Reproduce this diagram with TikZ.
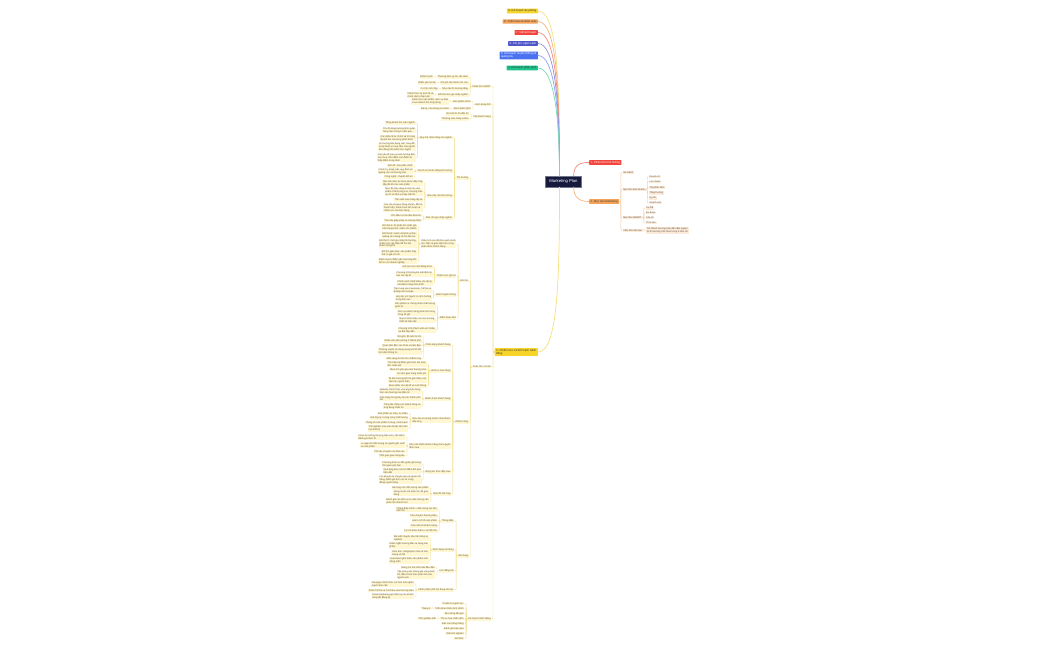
\documentclass[tikz,border=0pt]{standalone}
\usepackage{fontspec}
\setmainfont{Liberation Sans}
\usetikzlibrary{calc}
\definecolor{navy}{HTML}{161B3D}
\definecolor{cY}{HTML}{F6D42A}
\definecolor{cO}{HTML}{F3A257}
\definecolor{cR}{HTML}{F2453D}
\definecolor{cI}{HTML}{4F56C8}
\definecolor{cB}{HTML}{4A72F0}
\definecolor{cG}{HTML}{1FC38A}
\definecolor{lfY}{HTML}{FFF6D2}
\definecolor{lnY}{HTML}{F3DC82}
\definecolor{lfO}{HTML}{FDEBDA}
\definecolor{lnO}{HTML}{F8C79C}
\definecolor{txt}{HTML}{5A5040}
\definecolor{kY}{HTML}{F8E07A}
\definecolor{kO}{HTML}{F6B47E}
\definecolor{kR}{HTML}{F58883}
\definecolor{kI}{HTML}{8D92DD}
\definecolor{kB}{HTML}{8AA3F5}
\definecolor{kG}{HTML}{7CD9B5}
\tikzset{
 lf/.style={fill=lfY, text=txt, font=\fontsize{2.4}{2.8}\selectfont, inner xsep=0.7pt, inner ysep=0.4pt, align=left},
 lfo/.style={lf, fill=lfO},
 yc/.style={draw=lnY, line width=0.4pt, rounded corners=0.8pt},
 oc/.style={draw=lnO, line width=0.4pt, rounded corners=0.8pt},
 br/.style={font=\fontsize{2.8}{3.2}\selectfont, inner xsep=1.5pt, inner ysep=1pt, align=left, rounded corners=0.5pt},
 cv/.style={line width=0.7pt},
}
\newcommand\yk[4]{%
 \path (#2.west) ++(-3,0) coordinate (#1-a) (0,#3) coordinate (#1-b);
 \node[lf,anchor=east] (#1) at (#1-a |- #1-b) {#4};
 \draw[yc] (#2.west) -- ++(-1.5,0) |- (#1.east);}
\newcommand\ok[4]{%
 \path (#2.east) ++(3,0) coordinate (#1-a) (0,#3) coordinate (#1-b);
 \node[lfo,anchor=west] (#1) at (#1-a |- #1-b) {#4};
 \draw[oc] (#2.east) -- ++(1.5,0) |- (#1.west);}
\begin{document}
\begin{tikzpicture}[x=1pt,y=-1pt]
\fill[white] (0,0) rectangle (1050,650);
\useasboundingbox (0,0) rectangle (1050,650);
% central
\node[fill=navy, text=white, font=\fontsize{4.2}{5}\selectfont, minimum height=9pt, inner xsep=4pt, draw=navy!60!white, line width=0.3pt] (c) at (563.5,181.5) {Marketing Plan};
% top branches
\node[br, fill=cY, text=black!80, anchor=east] (t9) at (538,11) {9. Kế hoạch dự phòng};
\node[br, fill=cO, text=black!75, anchor=east] (t8) at (538,21.5) {8. Triển khai và kiểm soát};
\node[br, fill=cR, text=white, anchor=east] (t7) at (538,32.5) {7. Viết kế hoạch};
\node[br, fill=cI, text=white, anchor=east] (t6) at (538,43.5) {6. Chi phí, ngân sách};
\node[br, fill=cB, text=white, anchor=east] (t5) at (538,55.5) {5. Kế hoạch truyền thông và\\quảng bá};
\node[br, fill=cG, text=black!80, anchor=east] (t4) at (538,68) {4. Kế hoạch phân phối};
\node[br, fill=cY, text=black!80, anchor=east] (b3) at (538,352) {3. Chiến lược và kế hoạch hành\\động};
\node[br, fill=cR, text=white, anchor=west] (r1) at (589,162.5) {1. Phân tích tình huống};
\node[br, fill=cO, text=black!75, anchor=west] (r2) at (589,201.5) {2. Mục tiêu Marketing};
\draw[cv, kY] (t9.east) .. controls +(20,0) and +(0,-90) .. ([xshift=-4pt]c.north);
\draw[cv, kO] (t8.east) .. controls +(19,0) and +(0,-85) .. ([xshift=-4pt]c.north);
\draw[cv, kR] (t7.east) .. controls +(18,0) and +(0,-80) .. ([xshift=-4pt]c.north);
\draw[cv, kI] (t6.east) .. controls +(17,0) and +(0,-75) .. ([xshift=-4pt]c.north);
\draw[cv, kB] (t5.east) .. controls +(16,0) and +(0,-70) .. ([xshift=-4pt]c.north);
\draw[cv, kG] (t4.east) .. controls +(15,0) and +(0,-65) .. ([xshift=-4pt]c.north);
\draw[cv, kY] (b3.east) .. controls +(20,0) and +(0,90) .. ([xshift=-4pt]c.south);
\draw[cv, kR] ([xshift=-8pt]c.north east) .. controls +(0,-12) and +(-8,0) .. (r1.west);
\draw[cv, kO] ([xshift=-8pt]c.south east) .. controls +(0,12) and +(-8,0) .. (r2.west);
% branch 2
\ok{m1}{r2}{172.5}{Sứ mệnh}
\ok{m2}{r2}{189.5}{Mục tiêu kinh doanh}
\ok{n1}{m2}{177}{Doanh số}
\ok{n2}{m2}{182}{Lợi nhuận}
\ok{n3}{m2}{187.5}{Thị phần 15\%}
\ok{n4}{m2}{193}{Tăng trưởng}
\ok{n5}{m2}{198}{Uy tín}
\ok{n6}{m2}{203}{Khách mới}
\ok{m3}{r2}{217.5}{Mục tiêu SMART}
\ok{p1}{m3}{208}{Cụ thể}
\ok{p2}{m3}{213}{Đo được}
\ok{p3}{m3}{218}{Khả thi}
\ok{p4}{m3}{223}{Thời hạn}
\ok{m4}{r2}{230.5}{Tầm nhìn dài hạn}
\ok{q1}{m4}{230.5}{Trở thành thương hiệu dẫn đầu ngành\\tại thị trường Việt Nam trong 5 năm tới}
% branch 3 top group
\yk{s1}{b3}{86.5}{Phân tích SWOT}
\yk{a1}{s1}{77}{Thương hiệu uy tín, lâu năm}
\yk{a1x}{a1}{77}{Điểm mạnh}
\yk{a2}{s1}{83}{Chi phí vận hành còn cao}
\yk{a2x}{a2}{83}{Điểm yếu nội tại}
\yk{a3}{s1}{89}{Nhu cầu thị trường tăng}
\yk{a3x}{a3}{89}{Cơ hội mở rộng}
\yk{a4}{s1}{95}{Đối thủ mới gia nhập ngành}
\yk{a4x}{a4}{95}{Thách thức từ kinh tế và\\chính sách pháp luật}
\yk{s2}{b3}{104.5}{Hiện trạng DN}
\yk{b1}{s2}{101.5}{Sản phẩm chính}
\yk{b1x}{b1}{101.5}{Danh mục sản phẩm, dịch vụ hiện\\có và doanh thu từng dòng}
\yk{b2}{s2}{108.5}{Kênh phân phối}
\yk{b2x}{b2}{108.5}{Đại lý, cửa hàng và online}
\yk{s3}{b3}{116.5}{Tệp khách hàng}
\yk{c1}{s3}{114}{Độ tuổi từ 25 đến 40}
\yk{c2}{s3}{119}{Thường mua hàng online}
% big group
\yk{s4}{b3}{367}{Phân tích chi tiết}
\yk{t1}{s4}{178}{Thị trường}
\yk{t2}{s4}{281}{Đối thủ}
\yk{t3}{s4}{422}{Khách hàng}
\yk{t4}{s4}{556}{Nội dung}
% t1
\yk{u1}{t1}{137.5}{Quy mô, tiềm năng của ngành}
\yk{u1a}{u1}{123}{Tổng doanh thu toàn ngành}
\yk{u1b}{u1}{130.5}{Tốc độ tăng trưởng bình quân\\hàng năm trong 5 năm qua}
\yk{u1c}{u1}{138}{Các phân khúc chính và tỷ trọng\\doanh thu của từng phân khúc}
\yk{u1d}{u1}{147}{Xu hướng tiêu dùng mới, thay đổi\\trong hành vi mua sắm của người\\tiêu dùng trên kênh trực tuyến}
\yk{u1e}{u1}{158}{Các yếu tố mùa vụ ảnh hưởng đến\\sức mua, thời điểm cao điểm và\\thấp điểm trong năm}
\yk{u2}{t1}{171}{Yếu tố vĩ mô tác động thị trường}
\yk{u2a}{u2}{166}{Kinh tế: lạm phát, GDP}
\yk{u2b}{u2}{171.5}{Chính trị, pháp luật: quy định về\\quảng cáo và thương mại}
\yk{u2c}{u2}{177}{Công nghệ: chuyển đổi số}
\yk{u3}{t1}{196}{Nhu cầu của thị trường}
\yk{u3a}{u3}{183}{Nhu cầu hiện tại chưa được đáp ứng\\đầy đủ bởi các sản phẩm}
\yk{u3b}{u3}{192}{Mức độ sẵn sàng chi trả cho sản\\phẩm chất lượng cao, thương hiệu\\uy tín và dịch vụ hậu mãi tốt}
\yk{u3c}{u3}{200}{Tần suất mua hàng lặp lại}
\yk{u3d}{u3}{208}{Yêu cầu về giao hàng nhanh, đổi trả\\thuận tiện, thanh toán linh hoạt và\\chăm sóc sau bán hàng}
\yk{u4}{t1}{218}{Rào cản gia nhập ngành}
\yk{u4a}{u4}{215.5}{Vốn đầu tư ban đầu khá lớn}
\yk{u4b}{u4}{220.5}{Yêu cầu giấy phép và chứng nhận}
% t2
\yk{v1}{t2}{244}{Phân tích các đối thủ cạnh tranh\\trực tiếp và gián tiếp trên cùng\\phân khúc khách hàng}
\yk{v1a}{v1}{227}{Đối thủ A: thị phần lớn nhất, giá\\bán trung bình, nhiều chi nhánh}
\yk{v1b}{v1}{235}{Đối thủ B: mạnh về kênh online,\\quảng cáo mạng xã hội liên tục}
\yk{v1c}{v1}{243.5}{Đối thủ C: mới gia nhập thị trường,\\chiến lược giá thấp để thu hút\\khách hàng trẻ}
\yk{v1d}{v1}{253}{Đối thủ gián tiếp: sản phẩm thay\\thế có giá rẻ hơn}
\yk{v1e}{v1}{261}{Điểm mạnh, điểm yếu của từng đối\\thủ so với doanh nghiệp}
\yk{v2}{t2}{276}{Chiến lược giá cả}
\yk{v2a}{v2}{267}{Giá cao hơn mặt bằng 10\%}
\yk{v2b}{v2}{274.5}{Chương trình khuyến mãi định kỳ\\vào các dịp lễ}
\yk{v2c}{v2}{283}{Chính sách chiết khấu cho đại lý\\và khách hàng thân thiết}
\yk{v3}{t2}{295}{Kênh truyền thông}
\yk{v3a}{v3}{290.5}{Tập trung vào Facebook, TikTok và\\quảng cáo Google}
\yk{v3b}{v3}{298}{Hợp tác với người có ảnh hưởng\\trong lĩnh vực}
\yk{v4}{t2}{318}{Điểm khác biệt}
\yk{v4a}{v4}{305.5}{Sản phẩm có chứng nhận chất lượng\\quốc tế}
\yk{v4b}{v4}{313}{Dịch vụ khách hàng phản hồi trong\\vòng 24 giờ}
\yk{v4c}{v4}{320.5}{Bao bì thân thiện với môi trường,\\thiết kế hiện đại}
\yk{v4d}{v4}{330}{Chương trình thành viên với nhiều\\ưu đãi hấp dẫn}
% t3
\yk{w1}{t3}{345}{Chân dung khách hàng}
\yk{w1a}{w1}{336.5}{Nữ giới, độ tuổi 22-35}
\yk{w1b}{w1}{341}{Nhân viên văn phòng ở thành phố}
\yk{w1c}{w1}{345.5}{Quan tâm đến sức khỏe và làm đẹp}
\yk{w1d}{w1}{351.5}{Thường xuyên sử dụng mạng xã hội để\\tìm kiếm thông tin}
\yk{w1e}{w1}{358.5}{Sẵn sàng chi trả cho chất lượng}
\yk{w2}{t3}{371}{Hành vi mua hàng}
\yk{w2a}{w2}{364}{Tìm hiểu kỹ đánh giá trước khi mua,\\đọc nhận xét}
\yk{w2b}{w2}{369.5}{Mua chủ yếu qua sàn thương mại}
\yk{w2c}{w2}{374}{Ưu tiên giao hàng miễn phí}
\yk{w2d}{w2}{380}{Bị ảnh hưởng bởi lời giới thiệu của\\bạn bè, người thân}
\yk{w2e}{w2}{386}{Mua nhiều vào dịp lễ và cuối tháng}
\yk{w3}{t3}{399}{Điểm chạm khách hàng}
\yk{w3a}{w3}{391.5}{Website chính thức và trang bán hàng\\trên sàn thương mại điện tử}
\yk{w3b}{w3}{398.5}{Cửa hàng trưng bày tại các thành phố\\lớn}
\yk{w3c}{w3}{406}{Tổng đài chăm sóc khách hàng và\\ứng dụng nhắn tin}
\yk{w4}{t3}{420}{Nhu cầu và mong muốn chưa được\\đáp ứng}
\yk{w4a}{w4}{413.5}{Sản phẩm an toàn, tự nhiên}
\yk{w4b}{w4}{418}{Giá hợp lý, tương xứng chất lượng}
\yk{w4c}{w4}{422.5}{Thông tin sản phẩm rõ ràng, minh bạch}
\yk{w4d}{w4}{428.5}{Trải nghiệm mua sắm thuận tiện trên\\mọi thiết bị}
\yk{w5}{t3}{446}{Rào cản khiến khách hàng chưa quyết\\định mua}
\yk{w5a}{w5}{437.5}{Chưa tin tưởng thương hiệu mới, cần thêm\\đánh giá thực tế}
\yk{w5b}{w5}{445}{Lo ngại về chất lượng và nguồn gốc xuất\\xứ sản phẩm}
\yk{w5c}{w5}{451.5}{Phí vận chuyển còn khá cao}
\yk{w5d}{w5}{456}{Thời gian giao hàng lâu}
\yk{w6}{t3}{472}{Động lực thúc đẩy mua}
\yk{w6a}{w6}{464}{Chương trình ưu đãi, giảm giá trong\\thời gian giới hạn}
\yk{w6b}{w6}{471}{Quà tặng kèm và tích điểm đổi quà\\hấp dẫn}
\yk{w6c}{w6}{480}{Lời khuyên từ chuyên gia và người nổi\\tiếng, đánh giá tích cực từ cộng\\đồng người dùng}
\yk{w7}{t3}{494}{Mức độ hài lòng}
\yk{w7a}{w7}{488}{Hài lòng với chất lượng sản phẩm}
\yk{w7b}{w7}{493.5}{Mong muốn cải thiện tốc độ giao\\hàng}
\yk{w7c}{w7}{501}{Đánh giá cao dịch vụ tư vấn nhưng cần\\phản hồi nhanh hơn}
% t4
\yk{x1}{t4}{521}{Thông điệp}
\yk{x1a}{x1}{509.5}{Thông điệp chính: chất lượng tạo nên\\niềm tin}
\yk{x1b}{x1}{516}{Câu chuyện thương hiệu}
\yk{x1c}{x1}{521}{Giá trị cốt lõi sản phẩm}
\yk{x1d}{x1}{526}{Cam kết với khách hàng}
\yk{x1e}{x1}{531}{Lợi ích khác biệt so với đối thủ}
\yk{x2}{t4}{550}{Định dạng nội dung}
\yk{x2a}{x2}{538}{Bài viết chuyên sâu trên blog và\\website}
\yk{x2b}{x2}{545.5}{Video ngắn hướng dẫn sử dụng sản\\phẩm}
\yk{x2c}{x2}{553}{Hình ảnh, infographic chia sẻ trên\\mạng xã hội}
\yk{x2d}{x2}{560.5}{Livestream giới thiệu sản phẩm mới\\hàng tuần}
\yk{x3}{t4}{571}{Lịch đăng bài}
\yk{x3a}{x3}{567.5}{Đăng 3-4 bài mỗi tuần đều đặn}
\yk{x3b}{x3}{575}{Tập trung vào khung giờ vàng buổi\\tối, điều chỉnh theo phản hồi của\\người xem}
\yk{x4}{t4}{590}{Kênh phân phối nội dung chủ lực}
\yk{x4a}{x4}{584}{Fanpage chính thức với hơn 100 nghìn\\người theo dõi}
\yk{x4b}{x4}{590.5}{Kênh TikTok và YouTube của thương hiệu}
\yk{x4c}{x4}{596.5}{Email marketing gửi định kỳ cho khách\\hàng đã đăng ký}
% action plan
\yk{s5}{b3}{619}{Kế hoạch hành động}
\yk{e1}{s5}{603.5}{Chuẩn bị nguồn lực}
\yk{e2}{s5}{608.5}{Triển khai chiến dịch chính}
\yk{e2x}{e2}{608.5}{Tháng 3}
\yk{e3}{s5}{613.5}{Đo lường kết quả}
\yk{e4}{s5}{618.5}{Tối ưu hóa chiến dịch}
\yk{e4x}{e4}{618.5}{Thử nghiệm A/B}
\yk{e5}{s5}{623.5}{Báo cáo hàng tháng}
\yk{e6}{s5}{628.5}{Đánh giá hiệu quả}
\yk{e7}{s5}{633.5}{Rút kinh nghiệm}
\yk{e8}{s5}{638.5}{Kết thúc}
\end{tikzpicture}
\end{document}
